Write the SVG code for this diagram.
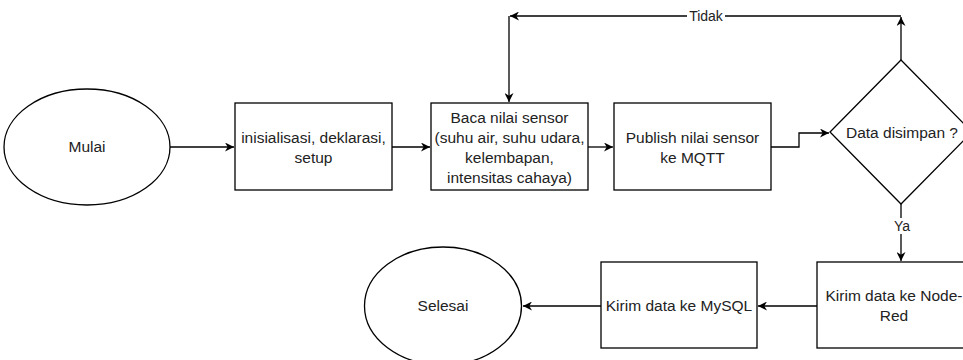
<svg xmlns="http://www.w3.org/2000/svg" width="963" height="360" viewBox="0 0 963 360">
<style>
.shape{fill:#fff;stroke:#000;stroke-width:1.3}
.edge{fill:none;stroke:#000;stroke-width:1.3}
.t{font-family:"Liberation Sans",Arial,sans-serif;font-size:15.5px;fill:#222;text-anchor:middle}
.lbl{font-family:"Liberation Sans",Arial,sans-serif;font-size:14px;fill:#222;text-anchor:middle}
</style>
<defs>
<marker id="arr" viewBox="0 0 10 10" refX="10" refY="5" markerWidth="9" markerHeight="9" markerUnits="userSpaceOnUse" orient="auto">
<path d="M0,0 L10,5 L0,10 L3,5 z" fill="#000"/>
</marker>
</defs>
<rect width="963" height="360" fill="#fff"/>
<g id="connectors">
<path class="edge" d="M170,147 L234,147" marker-end="url(#arr)"/>
<path class="edge" d="M392,147 L430,147" marker-end="url(#arr)"/>
<path class="edge" d="M588,147 L613,147" marker-end="url(#arr)"/>
<path class="edge" d="M771,147 L799,147 L799,133 L829,133" marker-end="url(#arr)"/>
<path class="edge" d="M901,60 L901,17" marker-end="url(#arr)"/>
<path class="edge" d="M901,16 L510,16" marker-end="url(#arr)"/>
<path class="edge" d="M509,16 L509,102" marker-end="url(#arr)"/>
<rect x="687" y="8" width="38" height="16" fill="#fff"/>
<text class="lbl" x="706" y="21">Tidak</text>
<path class="edge" d="M901,204 L901,261" marker-end="url(#arr)"/>
<rect x="892" y="218" width="20" height="16" fill="#fff"/>
<text class="lbl" x="902" y="231">Ya</text>
<path class="edge" d="M817,306 L758,306" marker-end="url(#arr)"/>
<path class="edge" d="M601,306 L523,306" marker-end="url(#arr)"/>
</g>
<g id="mulai">
<ellipse class="shape" cx="87" cy="147" rx="83" ry="58"/>
<text class="t" x="87" y="152">Mulai</text>
</g>
<g id="inisialisasi">
<rect class="shape" x="235" y="103" width="157" height="87"/>
<text class="t" x="313.5" y="143">inisialisasi, deklarasi,</text>
<text class="t" x="313.5" y="163">setup</text>
</g>
<g id="baca">
<rect class="shape" x="431" y="103" width="157" height="87"/>
<text class="t" x="509.5" y="123">Baca nilai sensor</text>
<text class="t" x="509.5" y="143">(suhu air, suhu udara,</text>
<text class="t" x="509.5" y="163">kelembapan,</text>
<text class="t" x="509.5" y="183">intensitas cahaya)</text>
</g>
<g id="publish">
<rect class="shape" x="614" y="103" width="157" height="87"/>
<text class="t" x="692.5" y="143">Publish nilai sensor</text>
<text class="t" x="692.5" y="163">ke MQTT</text>
</g>
<g id="decision">
<polygon class="shape" points="901,60 972,132 901,204 830,132"/>
<text class="t" x="902" y="138">Data disimpan ?</text>
</g>
<g id="nodered">
<rect class="shape" x="817" y="262" width="157" height="86"/>
<text class="t" x="894" y="301">Kirim data ke Node-</text>
<text class="t" x="894" y="321">Red</text>
</g>
<g id="mysql">
<rect class="shape" x="601" y="262" width="156" height="86"/>
<text class="t" x="679" y="311">Kirim data ke MySQL</text>
</g>
<g id="selesai">
<ellipse class="shape" cx="443" cy="306" rx="78.5" ry="59"/>
<text class="t" x="443" y="311">Selesai</text>
</g>
</svg>
